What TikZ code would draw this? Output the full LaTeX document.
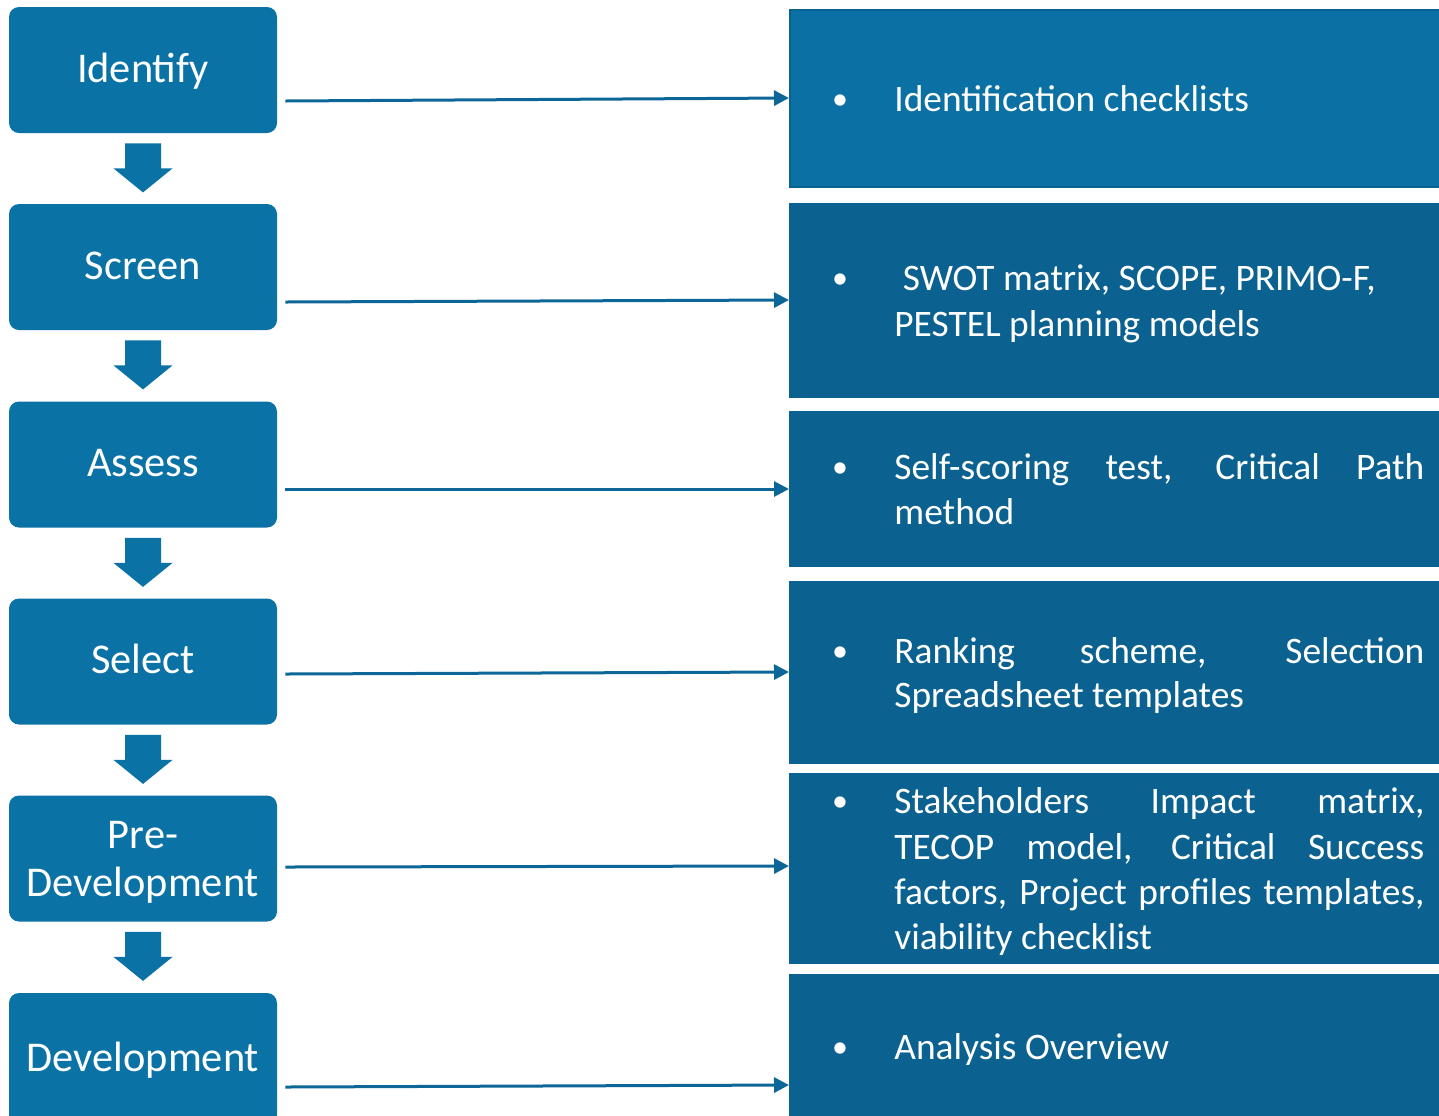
\documentclass[tikz,border=0pt]{standalone}
\usepackage{fontspec}
\setmainfont{Carlito}
\usetikzlibrary{arrows.meta,calc}
\definecolor{leftblue}{RGB}{11,114,166}
\definecolor{rightA}{RGB}{11,113,165}
\definecolor{rightAedge}{RGB}{10,98,146}
\definecolor{rightB}{RGB}{11,98,144}
\definecolor{linecol}{RGB}{12,103,152}
\begin{document}
\begin{tikzpicture}[x=0.5pt,y=-0.5pt,
  stepbox/.style={fill=leftblue, rounded corners=5pt, text=white, inner sep=0pt,
    minimum width=134pt, minimum height=63pt, align=center,
    font=\fontsize{21.2}{24}\selectfont},
  steptext/.style={text=white, inner sep=0pt, align=center,
    font=\fontsize{21.2}{24}\selectfont},
  fixtext/.style={text height=14pt, text depth=2pt},
  infobox/.style={anchor=west, inner sep=0pt, minimum width=350pt},
  infotext/.style={anchor=base west, inner sep=0pt, text=white,
    font=\fontsize{18.7}{22.5}\selectfont},
  bullet/.style={anchor=base, inner sep=0pt, text=white,
    font=\fontsize{16}{22.5}\selectfont},
  conn/.style={draw=linecol, line width=1.5pt, -{Triangle[length=7.5pt,width=7.5pt]}},
  downarrow/.style={fill=leftblue}
]
\useasboundingbox (0,0) rectangle (1439,1115);
\clip (0,0) rectangle (1439,1115);

% left step boxes
\node[stepbox, fixtext] (L1) at (143,70) {Identify};
\node[stepbox, fixtext] (L2) at (143,267) {Screen};
\node[stepbox, fixtext] (L3) at (143,464.5) {Assess};
\node[stepbox, fixtext] (L4) at (143,661.5) {Select};
\node[stepbox] (L5) at (143,858.5) {};
\node[steptext] (L5t) at ($(L5.center)+(0,4)$) {Pre-\\Development};
\node[stepbox, fixtext, minimum height=66pt] (L6) at (143,1059) {Development};

% down arrows between step boxes
\foreach \a/\b in {L1/L2,L2/L3,L3/L4,L4/L5,L5/L6}{
  \fill[downarrow] ($(\a.south)+(-18,10)$) -- ($(\a.south)+(18,10)$)
    -- ($(\a.south)+(18,35)$) -- ($(\a.south)+(29.5,35)$)
    -- ($(\a.south)+(0,59)$) -- ($(\a.south)+(-29.5,35)$)
    -- ($(\a.south)+(-18,35)$) -- cycle;
}

% right info boxes
\node[infobox, fill=rightA, draw=rightAedge, line width=1pt, minimum height=88.5pt] (R1) at (789,98.5) {};
\node[infobox, fill=rightB, minimum height=97.5pt] (R2) at (789,300.5) {};
\node[infobox, fill=rightB, minimum height=78pt] (R3) at (789,489) {};
\node[infobox, fill=rightB, minimum height=91.5pt] (R4) at (789,672.5) {};
\node[infobox, fill=rightB, minimum height=95.5pt] (R5) at (789,868.5) {};
\node[infobox, fill=rightB, minimum height=111pt] (R6) at (789,1085) {};

% connectors
\draw[conn] ($(L1.east)+(8,31)$) -- ($(R1.west)+(0,-0.5)$);
\draw[conn] ($(L2.east)+(8,35)$) -- ($(R2.west)+(0,-0.5)$);
\draw[conn] ($(L3.east)+(8,24.5)$) -- ($(R3.west)+(0,0)$);
\draw[conn] ($(L4.east)+(8,12.5)$) -- ($(R4.west)+(0,-0.5)$);
\draw[conn] ($(L5.east)+(8,8.5)$) -- ($(R5.west)+(0,-2.5)$);
\draw[conn] ($(L6.east)+(8,28)$) -- ($(R6.west)+(0,0)$);

% bullets
\node[bullet] (b1) at (840,109) {•};
\node[bullet] (b2) at (840,288) {•};
\node[bullet] (b3) at (840,477) {•};
\node[bullet] (b4) at (840,661) {•};
\node[bullet] (b5) at (840,811) {•};
\node[bullet] (b6) at (840,1057) {•};

% texts
\node[infotext] (t1) at (894,111) {Identification checklists};
\node[infotext] (t2a) at (894,290) {\ SWOT matrix, SCOPE, PRIMO-F,};
\node[infotext] (t2b) at (894,336) {PESTEL planning models};
\node[infotext] (t3a) at (894,479) {\makebox[265pt][s]{Self-scoring test, Critical Path}};
\node[infotext] (t3b) at (894,524) {method};
\node[infotext] (t4a) at (894,663) {\makebox[265pt][s]{Ranking scheme, Selection}};
\node[infotext] (t4b) at (894,707) {Spreadsheet templates};
\node[infotext] (t5a) at (894,813) {\makebox[265pt][s]{Stakeholders Impact matrix,}};
\node[infotext] (t5b) at (894,859) {\makebox[265pt][s]{TECOP model, Critical Success}};
\node[infotext] (t5c) at (894,904) {\makebox[265pt][s]{factors, Project profiles templates,}};
\node[infotext] (t5d) at (894,949) {viability checklist};
\node[infotext] (t6) at (894,1059) {Analysis Overview};
\end{tikzpicture}
\end{document}
